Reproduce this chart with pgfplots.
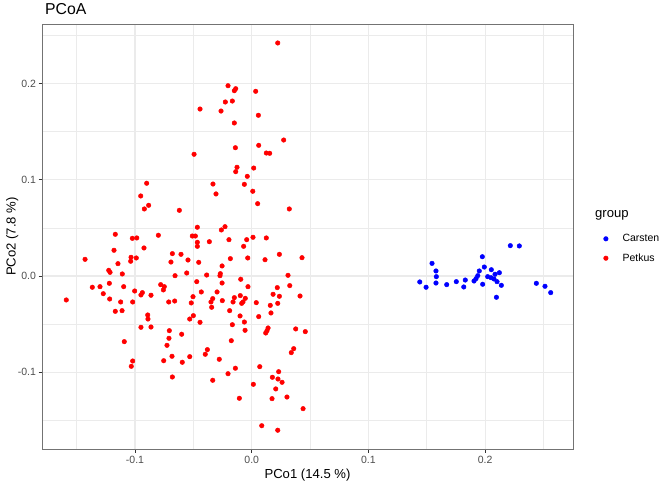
\documentclass[border=0pt]{standalone}
\usepackage{pgfplots}
\pgfplotsset{compat=1.18}
\usepackage{fontspec}
\setmainfont{Liberation Sans}
\definecolor{gridgray}{HTML}{EBEBEB}
\definecolor{ticktext}{HTML}{4D4D4D}
\definecolor{carsten}{HTML}{0000FF}
\definecolor{petkus}{HTML}{FF0000}

\begin{document}
\begin{tikzpicture}
\path[use as bounding box] (0,0) rectangle (661bp,484bp);
\begin{axis}[
    at={(42bp,34.7bp)}, anchor=south west,
    scale only axis,
    width=531bp, height=425.3bp,
    clip mode=individual,
    xmin=-0.1797, xmax=0.2753,
    ymin=-0.1800, ymax=0.2617,
    xtick={-0.1,0,0.1,0.2},
    xticklabels={-0.1,0.0,0.1,0.2},
    ytick={-0.1,0,0.1,0.2},
    yticklabels={-0.1,0.0,0.1,0.2},
    minor xtick={-0.15,-0.05,0.05,0.15,0.25},
    minor ytick={-0.15,-0.05,0.05,0.15,0.25},
    xtick pos=left, ytick pos=left,
    grid=both,
    major grid style={color=gridgray, line width=1.1bp},
    minor grid style={color=gridgray, line width=0.55bp},
    tick align=outside,
    major tick length=3.3bp,
    minor tick length=0pt,
    tick style={color=black!80, line width=0.9bp},
    axis line style={color=black!55, line width=0.9bp},
    xticklabel style={font=\fontsize{10.5bp}{12bp}\selectfont, text=ticktext, inner sep=0pt, anchor=north, yshift=-3.6bp},
    yticklabel style={font=\fontsize{10.5bp}{12bp}\selectfont, text=ticktext, inner sep=0pt, anchor=east, xshift=-2.6bp},
    xlabel={PCo1 (14.5 \%)},
    ylabel={PCo2 (7.8 \%)},
    label style={font=\fontsize{13.1bp}{15bp}\selectfont},
    xlabel style={at={(axis description cs:0.5,-0.0605)}, anchor=center},
    ylabel style={at={(axis description cs:-0.056,0.5)}, anchor=center},
    legend style={at={(axis description cs:1.0452,0.5182)}, anchor=north west,
        draw=none, fill=none, inner sep=0pt,
        font=\fontsize{10.5bp}{12bp}\selectfont,
        nodes={inner sep=0pt, minimum height=19.4bp},
        /tikz/every odd column/.append style={column sep=7.9bp}},
    legend cell align=left,
    legend image code/.code={\path[draw=none, fill=none] (0bp,-2bp) rectangle (17.4bp,2bp);
        \draw[mark repeat=2,mark phase=2,#1] plot coordinates {(0bp,0bp) (8.7bp,0bp) (17.4bp,0bp)};},
]
\addplot[only marks, mark=*, mark size=2.3bp, color=carsten] coordinates {
(0.2216,0.0315) (0.2293,0.0312) (0.1976,0.0200) (0.1545,0.0131) (0.1579,0.0052)
(0.1582,-0.0007) (0.1579,-0.0073) (0.1440,-0.0062) (0.1494,-0.0117) (0.1671,-0.0090)
(0.1753,-0.0059) (0.1817,-0.0114) (0.1830,-0.0042) (0.1905,-0.0052) (0.1922,-0.0028)
(0.1937,0.0003) (0.1950,0.0052) (0.1993,0.0093) (0.1979,-0.0086) (0.2022,-0.0007)
(0.2051,-0.0018) (0.2053,0.0065) (0.2085,0.0018) (0.2076,-0.0031) (0.2102,-0.0059)
(0.2122,0.0034) (0.2139,-0.0097) (0.2439,-0.0076) (0.2513,-0.0107) (0.2562,-0.0173)
(0.2097,-0.0221)
};
\addlegendentry{Carsten}
\addplot[only marks, mark=*, mark size=2.3bp, color=petkus] coordinates {
(0.0223,0.2420) (-0.0203,0.1976) (-0.0137,0.1945) (-0.0149,0.1924) (0.0034,0.1918)
(-0.0226,0.1807) (-0.0166,0.1817) (-0.0443,0.1734) (-0.0263,0.1713) (0.0057,0.1669)
(-0.0149,0.1589) (0.0274,0.1412) (-0.0140,0.1332) (0.0060,0.1357) (0.0125,0.1277)
(0.0154,0.1274) (-0.0494,0.1264) (-0.0126,0.1129) (0.0017,0.1121)
(-0.0137,0.1083) (-0.0038,0.1035) (-0.0332,0.0955) (-0.0063,0.0952) (-0.0306,0.0852)
(0.0009,0.0880) (0.0051,0.0751) (0.0322,0.0696) (-0.0620,0.0682) (-0.0466,0.0506)
(-0.0260,0.0478) (-0.0229,0.0512) (-0.0509,0.0415) (-0.0483,0.0415) (-0.0466,0.0350)
(-0.0466,0.0308) (-0.0363,0.0356) (-0.0195,0.0377) (-0.0043,0.0377) (0.0011,0.0402)
(0.0125,0.0395) (-0.0069,0.0308) (-0.0606,0.0225) (-0.0546,0.0166) (-0.0454,0.0142)
(-0.0183,0.0180) (-0.0034,0.0187) (0.0114,0.0169) (0.0237,0.0225) (0.0431,0.0190)
(-0.0557,0.0031) (-0.0386,0.0010) (-0.0254,0.0104) (-0.0269,0.0024) (-0.0272,0.0003)
(-0.0094,-0.0034) (0.0311,0.0007)
(-0.0900,0.0963) (-0.0951,0.0831) (-0.0920,0.0696) (-0.0883,0.0734) (-0.1169,0.0433)
(-0.1023,0.0391) (-0.0985,0.0395) (-0.0800,0.0423) (-0.1180,0.0267) (-0.0923,0.0291)
(-0.1428,0.0173) (-0.1034,0.0194) (-0.0989,0.0187) (-0.1037,0.0153) (-0.1146,0.0128)
(-0.0680,0.0232) (-0.0692,0.0145) (-0.1225,0.0059) (-0.1214,0.0038) (-0.1109,0.0021)
(-0.0657,0.0003)
(-0.1589,-0.0249) (-0.1366,-0.0117) (-0.1300,-0.0111) (-0.1220,-0.0076) (-0.1097,-0.0111)
(-0.1272,-0.0184) (-0.1217,-0.0239) (-0.1123,-0.0270) (-0.1020,-0.0270) (-0.1003,-0.0156)
(-0.0949,-0.0197) (-0.0937,-0.0173) (-0.0863,-0.0200) (-0.0780,-0.0090) (-0.0749,-0.0111)
(-0.0757,-0.0145) (-0.0711,-0.0270) (-0.0660,-0.0260) (-0.1169,-0.0367) (-0.1111,-0.0360)
(-0.0891,-0.0405) (-0.0889,-0.0447) (-0.0949,-0.0533) (-0.0863,-0.0530) (-0.0706,-0.0568)
(-0.0709,-0.0647) (-0.0726,-0.0720) (-0.1092,-0.0682) (-0.1020,-0.0883) (-0.1032,-0.0938)
(-0.0754,-0.0880) (-0.0683,-0.0834) (-0.0680,-0.1049)
(-0.0471,-0.0059) (-0.0254,-0.0073) (-0.0032,-0.0111) (0.0219,-0.0121) (0.0326,-0.0100)
(-0.0503,-0.0215) (-0.0432,-0.0166) (-0.0518,-0.0280) (-0.0297,-0.0166) (-0.0334,-0.0235)
(-0.0349,-0.0270) (-0.0343,-0.0325) (-0.0252,-0.0256) (-0.0149,-0.0225) (-0.0160,-0.0270)
(-0.0098,-0.0204) (-0.0055,-0.0232) (-0.0086,-0.0284) (-0.0075,-0.0270) (0.0039,-0.0277)
(0.0183,-0.0190) (0.0237,-0.0211) (0.0223,-0.0284) (0.0159,-0.0305) (0.0165,-0.0384)
(0.0414,-0.0208) (-0.0531,-0.0447) (-0.0500,-0.0412) (-0.0443,-0.0481) (-0.0189,-0.0360)
(-0.0100,-0.0415) (0.0060,-0.0422) (-0.0063,-0.0478) (-0.0166,-0.0506) (-0.0057,-0.0564)
(-0.0600,-0.0605) (0.0140,-0.0540) (0.0131,-0.0568) (0.0120,-0.0592) (0.0377,-0.0550)
(0.0459,-0.0578) (-0.0175,-0.0672) (-0.0380,-0.0765) (-0.0398,-0.0813) (-0.0531,-0.0838)
(-0.0595,-0.0896) (-0.0278,-0.0865) (0.0360,-0.0755) (0.0339,-0.0796) (-0.0140,-0.0958)
(-0.0203,-0.1015) (-0.0334,-0.1083) (0.0069,-0.0942) (0.0231,-0.0994) (0.0177,-0.1052)
(0.0225,-0.1070) (0.0260,-0.1104) (0.0014,-0.1125) (0.0206,-0.1173) (0.0302,-0.1257)
(0.0174,-0.1274) (-0.0106,-0.1270) (0.0440,-0.1378) (0.0086,-0.1555) (0.0223,-0.1602)
};
\addlegendentry{Petkus}
\node[anchor=west, inner sep=0pt, font=\fontsize{13.1bp}{15bp}\selectfont] at (axis description cs:1.0414,0.5505) {group};
\node[anchor=base west, inner sep=0pt, font=\fontsize{15.8bp}{18bp}\selectfont] at (axis description cs:0.0056,1.0212) {PCoA};
\end{axis}
\end{tikzpicture}
\end{document}
